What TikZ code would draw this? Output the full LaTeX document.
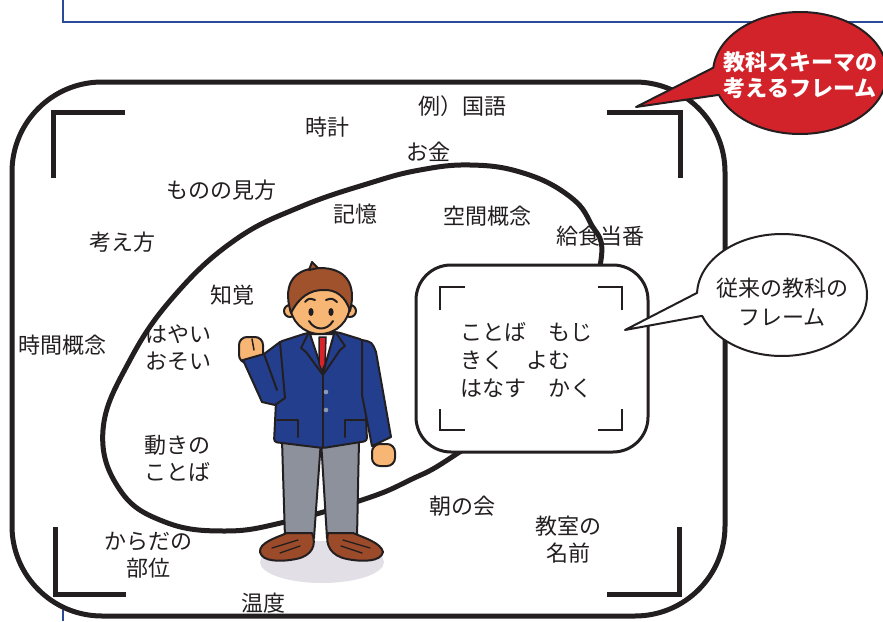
\documentclass[tikz,border=0pt]{standalone}
\usepackage{fontspec}
\newfontfamily\jp{Noto Sans CJK JP}
\usetikzlibrary{calc}
\definecolor{ink}{HTML}{231F20}
\definecolor{frameblue}{HTML}{2B4A9A}
\definecolor{bubblered}{HTML}{D2232A}
\definecolor{suitc}{HTML}{243E8E}
\definecolor{pantsc}{HTML}{8C919C}
\definecolor{skinc}{HTML}{F8B674}
\definecolor{hairc}{HTML}{A0522D}
\definecolor{shoec}{HTML}{9B4A2A}
\definecolor{shadowc}{HTML}{E3DFE6}
\definecolor{tiec}{HTML}{D8232A}
\definecolor{buttonc}{HTML}{8C9AB8}
\begin{document}
\begin{tikzpicture}[x=1pt,y=-1pt,
  lbl/.style={font=\jp\fontsize{22}{27}\selectfont, text=ink, align=center, inner sep=0pt},
  thickframe/.style={draw=ink, line width=5pt},
  bracket/.style={draw=ink, line width=5pt, line cap=butt, line join=miter},
  thinbracket/.style={draw=ink, line width=2pt, line cap=butt, line join=miter},
  outline/.style={draw=ink, line width=2pt, line join=round, line cap=round},
  bubble/.style={draw=ink, line width=2pt, line join=round}]
\useasboundingbox (0,0) rectangle (883,621);

% blue page frame lines
\draw[frameblue, line width=2.5pt] (63,0) -- (63,22) -- (883,22);
\draw[frameblue, line width=2.5pt] (63,610) -- (63,621);

% outer rounded frame
\draw[thickframe, rounded corners=90pt] (12,82) rectangle (725,616);

% corner brackets of the outer frame
\draw[bracket] (53,178) -- (53,112) -- (125,112);
\draw[bracket] (607,112) -- (680,112) -- (680,178);
\draw[bracket] (55,527) -- (55,594) -- (126,594);
\draw[bracket] (607,594) -- (679,594) -- (679,527);

% tilted closed curve
\draw[thickframe] plot[smooth cycle, tension=0.7] coordinates {
  (600,266) (590,222) (565,193) (520,172) (470,165) (420,170) (370,183)
  (300,207) (235,240) (175,295) (130,360) (103,430) (120,490) (165,522)
  (225,531) (285,522) (365,499) (410,480) (455,455) (560,380)};

% inner rounded box
\filldraw[fill=white, draw=ink, line width=3pt, rounded corners=35pt] (416,265) rectangle (648,452);
\draw[thinbracket] (440,310) -- (440,287) -- (465,287);
\draw[thinbracket] (598,287) -- (622,287) -- (622,310);
\draw[thinbracket] (440,409) -- (440,430) -- (465,430);
\draw[thinbracket] (598,430) -- (622,430) -- (622,409);
\node[lbl, align=left, anchor=west, font=\jp\fontsize{22}{28}\selectfont] (inner) at (460,360)
  {ことば　もじ\\きく　よむ\\はなす　かく};

% labels
\node[lbl] (rei) at (462,106) {例）国語};
\node[lbl] (tokei) at (327,127) {時計};
\node[lbl] (okane) at (428,152) {お金};
\node[lbl] (mikata) at (221,190) {ものの見方};
\node[lbl] (kioku) at (355,214) {記憶};
\node[lbl] (kukan) at (487,216) {空間概念};
\node[lbl] (kyushoku) at (600,236) {給食当番};
\node[lbl] (kangae) at (122,242) {考え方};
\node[lbl] (chikaku) at (232,295) {知覚};
\node[lbl] (jikan) at (62,345) {時間概念};
\node[lbl] (hayai) at (178,348) {はやい\\おそい};
\node[lbl] (ugoki) at (177,458) {動きの\\ことば};
\node[lbl] (asa) at (462,506) {朝の会};
\node[lbl] (kyoshitsu) at (568,540) {教室の\\名前};
\node[lbl] (karada) at (148,555) {からだの\\部位};
\node[lbl] (ondo) at (263,603) {温度};

% ---- boy in a blazer ----
\fill[shadowc] (322,562) ellipse [x radius=62, y radius=21];
% trousers
\filldraw[fill=pantsc, outline] (282,440) -- (321,440) -- (314,538) -- (285,538) -- cycle;
\filldraw[fill=pantsc, outline] (321,440) -- (359,440) -- (357,538) -- (327,538) -- cycle;
% shoes
\filldraw[fill=shoec, outline] (287,533) -- (312,533) .. controls (317,545) and (312,556) .. (296,559)
  .. controls (281,562) and (262,562) .. (260,552) .. controls (259,543) and (275,538) .. (287,533) -- cycle;
\filldraw[fill=shoec, outline] (328,533) -- (353,533) .. controls (365,538) and (381,543) .. (383,552)
  .. controls (381,562) and (362,562) .. (347,559) .. controls (331,556) and (325,545) .. (328,533) -- cycle;
\draw[outline, line width=1.3pt] (272,548) -- (298,540) (280,553) -- (300,546);
\draw[outline, line width=1.3pt] (370,548) -- (343,540) (362,553) -- (341,546);
% neck
\filldraw[fill=skinc, outline] (310,318) rectangle (334,340);
% hands
\filldraw[fill=skinc, outline, rounded corners=8pt] (372,444) rectangle (395,466);
\filldraw[fill=skinc, outline, rounded corners=8pt] (239,337) rectangle (263,363);
\draw[outline, line width=1.5pt] (252,339) -- (254,350);
% jacket body
\filldraw[fill=suitc, outline, rounded corners=3pt] (279,342) -- (307,333) -- (337,332) -- (363,340)
  -- (367,441) -- (323,448) -- (274,442) -- cycle;
% shirt and tie
\filldraw[fill=white, outline] (310,334) -- (334,334) -- (323,373) -- cycle;
\filldraw[fill=tiec, outline, line width=1.5pt] (319,337) -- (326,337) -- (325,364) -- (322,371) -- (319,364) -- cycle;
% lapels
\draw[outline] (308,334) -- (301,348) -- (306,352) -- (323,375);
\draw[outline] (336,333) -- (345,346) -- (340,350) -- (323,375);
% jacket front, buttons, pockets
\draw[outline] (323,375) -- (323,447);
\fill[buttonc] (326,392) circle [radius=2.3];
\fill[buttonc] (326,410) circle [radius=2.3];
\draw[outline] (277,420) -- (298,420) -- (298,437);
\draw[outline] (345,437) -- (345,420) -- (365,420);
% sleeves
\filldraw[fill=suitc, outline] (362,340) .. controls (372,342) .. (376,352) -- (391,437) -- (372,446) -- (362,395) -- cycle;
\filldraw[fill=suitc, outline] (243,360) -- (264,354) -- (280,342) -- (285,398) -- (275,405) -- (262,402) -- cycle;
\draw[outline] (264,354) -- (277,390);
% head
\filldraw[fill=skinc, outline] (290,311) circle [radius=6];
\filldraw[fill=skinc, outline] (350,311) circle [radius=6];
\filldraw[fill=skinc, outline] (320,304) circle [radius=30];
\filldraw[fill=hairc, outline] (291,313) .. controls (281,280) and (298,268) .. (320,268)
  .. controls (345,268) and (357,283) .. (350,311) .. controls (346,297) and (336,289) .. (323,290)
  .. controls (310,290) and (299,297) .. (291,313) -- cycle;
\filldraw[fill=hairc, outline] (309,270) -- (312,262) -- (318,268) -- cycle;
\fill[ink] (311,312) ellipse [x radius=2.6, y radius=4];
\fill[ink] (331,312) ellipse [x radius=2.6, y radius=4];
\draw[outline] (305,302) .. controls (309,298) .. (315,300);
\draw[outline] (326,300) .. controls (332,298) .. (337,302);
\draw[outline] (309,321) .. controls (315,331) and (327,331) .. (333,321);

% red callout
\coordinate (rc) at (800,73);
\coordinate (rtip) at (636,107);
\filldraw[fill=bubblered, bubble] ($(rc)+(185:87 and 61)$) arc [start angle=185, end angle=519, x radius=87, y radius=61] -- (rtip) -- cycle;
\node[lbl, text=white, font=\jp\bfseries\fontsize{22}{26}\selectfont] (schema) at (800,75) {教科スキーマの\\考えるフレーム};

% white callout
\coordinate (wc) at (782,295);
\coordinate (wtip) at (625,330);
\filldraw[fill=white, bubble] ($(wc)+(182:85 and 61)$) arc [start angle=182, end angle=520, x radius=85, y radius=61] -- (wtip) -- cycle;
\node[lbl, font=\jp\fontsize{22}{29}\selectfont] (conv) at (782,302) {従来の教科の\\フレーム};
\end{tikzpicture}
\end{document}
